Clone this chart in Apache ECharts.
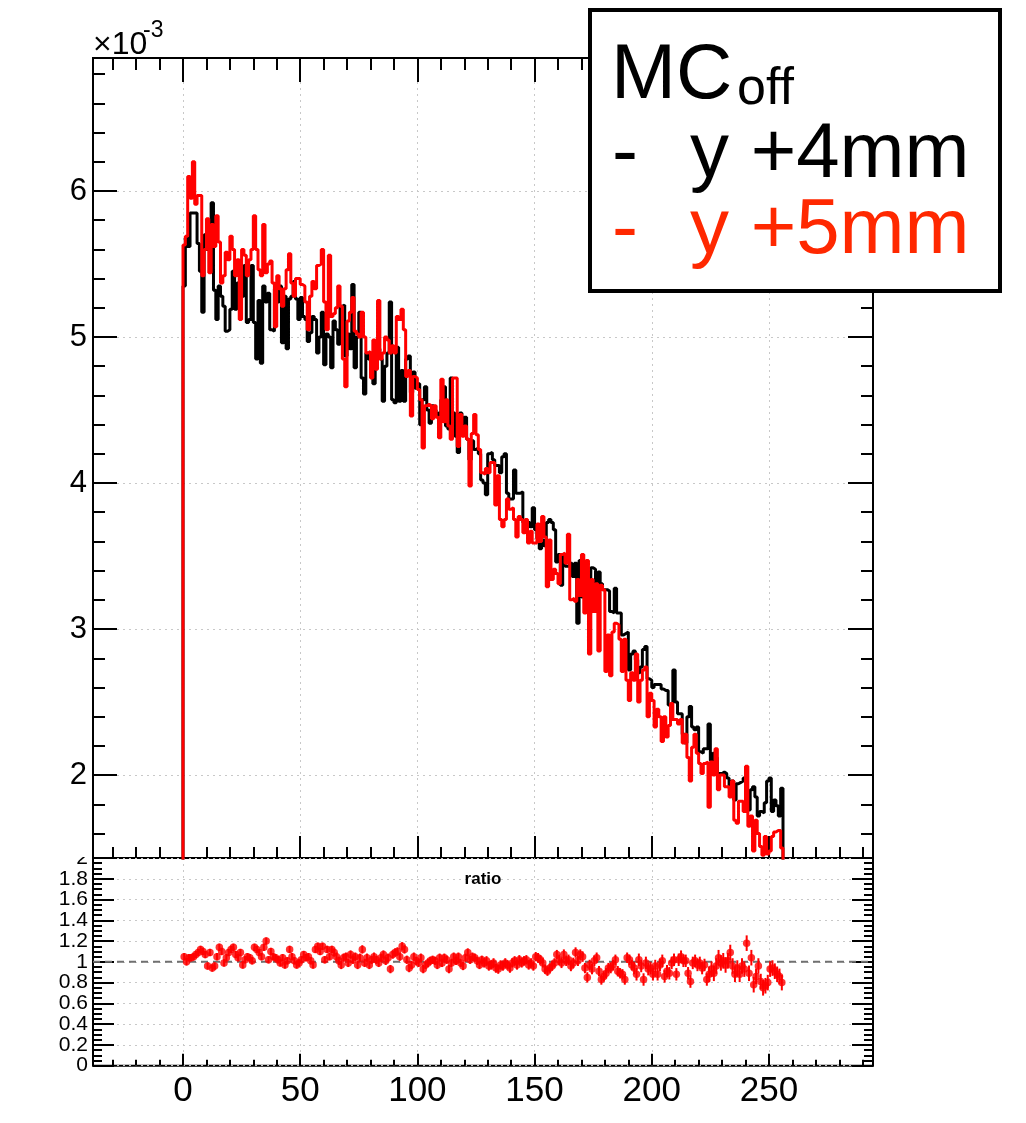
<!DOCTYPE html>
<html>
<head>
<meta charset="utf-8">
<script src="https://cdn.jsdelivr.net/npm/echarts@6/dist/echarts.min.js"></script>
<style>html,body{margin:0;padding:0;background:#fff}#c{width:1026px;height:1123px}</style>
</head>
<body>
<div id="c"></div>
<script>
// ---------------- data (upper panel values in units of 1e-3) ----------------
const binLow = 0;
const binWidth = 1;
const xTickLabels = [0, 50, 100, 150, 200, 250];
const yTickLabels = [2, 3, 4, 5, 6];
const ratioTickLabels = [0, 0.2, 0.4, 0.6, 0.8, 1, 1.2, 1.4, 1.6, 1.8, 2];

const yPlus4mm = [
5.35,5.68,5.62,5.85,5.85,5.85,5.64,5.45,5.17,5.70,
5.60,5.60,5.92,5.32,5.12,5.35,5.28,5.21,5.04,5.05,
5.19,5.45,5.19,5.37,5.38,5.28,5.49,5.10,5.12,5.49,
5.10,4.85,5.25,4.82,5.35,5.24,5.30,5.05,5.04,5.33,
5.24,5.35,4.96,5.28,4.92,5.26,5.28,5.38,5.26,5.12,
5.27,5.14,5.12,4.97,5.03,5.14,5.12,4.89,5.00,5.17,
4.81,5.02,5.00,4.79,5.11,5.05,4.95,5.21,5.22,4.87,
5.02,4.92,5.36,4.79,5.00,5.17,4.72,4.61,4.89,4.85,
4.80,4.68,4.89,4.92,4.85,4.56,4.80,4.89,5.24,4.57,
4.55,4.93,4.56,4.77,4.56,4.85,4.87,4.62,4.76,4.65,
4.68,4.40,4.57,4.66,4.50,4.41,4.53,4.50,4.46,4.48,
4.57,4.66,4.39,4.37,4.72,4.48,4.32,4.21,4.48,4.38,
4.45,4.30,4.16,4.29,4.23,4.24,4.20,4.02,4.00,3.92,
4.20,4.21,4.16,4.12,4.12,4.07,4.18,4.20,3.93,3.89,
3.89,4.09,3.93,3.93,3.94,3.73,3.68,3.73,3.70,3.83,
3.68,3.62,3.55,3.61,3.57,3.73,3.75,3.73,3.68,3.46,
3.51,3.30,3.51,3.43,3.43,3.45,3.36,3.45,3.04,3.47,
3.22,3.29,3.34,3.11,3.42,3.41,3.31,3.39,3.31,3.27,
3.27,3.26,3.12,3.11,3.28,3.11,3.11,2.96,2.97,2.98,
2.72,2.83,2.85,2.79,2.70,2.74,2.86,2.88,2.66,2.65,
2.60,2.62,2.62,2.62,2.59,2.58,2.58,2.48,2.49,2.72,
2.50,2.42,2.42,2.28,2.22,2.40,2.47,2.33,2.31,2.33,
2.16,2.15,2.18,2.18,2.35,2.10,2.15,2.12,2.01,2.01,
2.02,2.01,1.98,1.91,1.96,1.83,1.94,1.95,1.96,1.98,
1.83,1.76,1.90,1.92,1.85,1.72,1.75,1.74,1.81,1.96,
1.98,1.75,1.83,1.79,1.72,1.91
];

const yPlus5mm = [
5.63,5.69,6.10,5.95,6.20,5.91,5.97,5.97,5.42,5.60,
5.81,5.44,5.77,5.62,5.83,5.65,5.37,5.42,5.58,5.53,
5.69,5.60,5.42,5.53,5.12,5.60,5.56,5.42,5.53,5.60,
5.83,5.60,5.46,5.42,5.77,5.44,5.50,5.52,5.37,5.07,
5.42,5.33,5.21,5.33,5.46,5.57,5.37,5.28,5.40,5.40,
5.36,5.35,5.24,5.05,5.28,5.38,5.33,5.49,5.50,5.60,
5.24,5.05,5.56,5.14,5.16,5.20,5.35,5.21,4.85,4.66,
5.11,5.17,5.27,5.04,5.02,5.00,5.17,5.00,4.89,4.90,
4.72,4.98,4.78,5.25,4.85,4.89,5.00,4.98,4.89,4.94,
4.89,5.14,5.12,5.19,5.05,4.73,4.77,4.46,4.73,4.72,
4.64,4.57,4.24,4.53,4.54,4.53,4.44,4.53,4.45,4.31,
4.71,4.42,4.57,4.39,4.30,4.72,4.72,4.25,4.47,4.32,
4.39,4.30,3.98,4.34,4.47,4.33,4.23,4.07,4.06,4.10,
4.07,4.14,4.14,3.85,4.05,3.75,3.70,3.75,3.89,3.82,
3.83,3.75,3.63,3.77,3.75,3.66,3.75,3.59,3.67,3.59,
3.59,3.72,3.60,3.77,3.63,3.29,3.61,3.34,3.41,3.38,
3.31,3.51,3.52,3.45,3.65,3.20,3.21,3.19,3.34,3.23,
3.51,3.11,3.47,2.83,3.34,3.12,3.31,2.85,3.30,3.27,
2.71,2.96,2.68,2.98,3.04,3.03,2.93,2.71,2.93,2.65,
2.51,2.70,2.65,2.83,2.50,2.65,2.72,2.74,2.40,2.56,
2.51,2.33,2.45,2.40,2.23,2.40,2.26,2.34,2.49,2.38,
2.38,2.35,2.38,2.22,2.28,2.12,1.96,2.19,2.28,2.15,
2.08,2.01,2.08,2.09,1.78,2.09,2.00,2.18,1.90,2.00,
2.00,1.92,1.92,1.85,1.96,1.69,1.67,1.82,1.82,1.75,
2.06,1.65,1.72,1.48,1.69,1.60,1.51,1.45,1.58,1.46,
1.48,1.58,1.61,1.62,1.62,1.50
];

const ratioValues = [
1.05,1.00,1.04,1.04,1.05,1.07,1.09,1.12,1.10,1.07,
0.96,1.09,0.94,0.96,1.05,1.14,1.10,0.99,1.04,1.09,
1.12,1.14,1.07,1.04,1.09,0.97,1.02,1.05,1.04,1.01,
1.14,1.12,1.09,1.05,1.14,1.20,1.02,1.10,1.05,1.04,
1.02,0.99,1.04,0.97,1.01,1.12,1.05,1.01,0.97,0.99,
1.02,1.07,1.04,1.05,1.01,0.97,1.12,1.15,1.10,1.15,
1.02,1.12,1.05,1.12,1.09,1.05,1.01,0.97,1.04,1.05,
0.99,1.07,1.02,1.05,0.97,1.04,1.12,0.99,1.04,0.97,
1.02,1.05,1.02,0.99,1.04,1.07,1.01,1.04,0.93,1.07,
1.09,1.10,1.05,1.15,1.12,1.02,0.94,0.97,1.05,1.01,
0.99,1.04,0.93,0.97,0.99,1.01,1.02,1.01,0.97,1.04,
0.99,1.04,1.02,0.93,0.99,1.05,1.01,1.05,0.99,0.96,
1.04,1.09,1.02,1.05,1.04,1.01,0.97,1.02,0.99,1.01,
0.96,0.97,0.99,0.94,0.93,0.97,0.96,0.99,0.97,0.94,
0.99,1.01,0.97,1.02,0.99,1.01,1.02,0.97,0.99,0.96,
1.05,1.04,1.02,0.99,0.93,0.91,0.94,0.96,0.99,1.07,
1.02,0.99,1.07,1.01,1.02,0.96,0.99,1.09,1.01,1.07,
1.05,0.94,0.85,0.97,0.93,1.01,1.04,0.91,0.83,0.86,
0.89,0.94,0.94,0.97,1.02,0.91,0.89,0.88,0.83,1.04,
1.02,0.97,0.94,0.88,1.02,0.96,0.83,0.99,0.93,0.94,
0.88,0.96,0.88,0.97,1.01,0.86,0.91,0.89,0.99,1.02,
0.88,1.02,1.05,1.01,1.01,0.89,0.81,0.99,1.01,0.97,
0.99,0.94,0.97,0.83,0.88,0.93,0.89,0.96,1.04,0.99,
1.01,0.97,1.01,1.09,0.96,0.88,0.94,0.88,0.96,0.93,
1.18,0.89,1.04,0.78,0.86,0.96,0.81,0.75,0.77,0.80,
0.93,0.94,0.91,0.88,0.86,0.80
];
// ratio uncertainty per block of 32 bins
const ratioErrorByBlock = [0.035,0.035,0.04,0.04,0.045,0.05,0.06,0.075];

// ---------------- layout / axes ----------------
const FONT = "'Liberation Sans', Arial, Helvetica, sans-serif";
const X_MIN = -38.4, X_MAX = 294.4;
const Y_MIN = 1.432, Y_MAX = 6.911;
const R_MIN = 0, R_MAX = 2;

function range(a, b, step, dec) {
  const out = [];
  for (let v = a; v <= b + 1e-9; v += step) out.push(Number(v.toFixed(dec)));
  return out;
}
const xMinor = range(-30, 290, 10, 0);
const yMinor = range(1.6, 6.8, 0.2, 1);
const rMinor = range(0, 2, 0.05, 2);
// ratio labels split over two overlaid axes so none gets auto-hidden
const ratioLabelsA = ratioTickLabels.filter((v, i) => i % 2 === 0);
const ratioLabelsB = ratioTickLabels.filter((v, i) => i % 2 === 1);

function axis(grid, pos, min, max, ticks, len, opts) {
  opts = opts || {};
  return {
    type: 'value', gridIndex: grid, position: pos, min: min, max: max,
    axisLine: { show: false, onZero: false },
    axisTick: { show: true, inside: true, length: len, customValues: ticks,
                lineStyle: { color: '#000', width: 2 } },
    axisLabel: opts.label || { show: false },
    splitLine: opts.split ? { show: true, lineStyle: { color: '#c8c8c8', width: 1, type: [2, 4] } } : { show: false }
  };
}
function ratioLabel(values) {
  return { show: true, customValues: values, fontSize: 21, fontFamily: FONT, color: '#000', margin: 5,
           showMinLabel: true, showMaxLabel: true, hideOverlap: false,
           formatter: v => String(Math.round(v * 10) / 10) };
}

const xAxes = [
  axis(0, 'bottom', X_MIN, X_MAX, xTickLabels, 22, { split: true }),
  axis(0, 'bottom', X_MIN, X_MAX, xMinor, 11),
  axis(0, 'top', X_MIN, X_MAX, xTickLabels, 24),
  axis(0, 'top', X_MIN, X_MAX, xMinor, 12),
  axis(1, 'bottom', X_MIN, X_MAX, xTickLabels, 12, { split: true, label: {
    show: true, customValues: xTickLabels, fontSize: 35, fontFamily: FONT, color: '#000', margin: 8 } }),
  axis(1, 'bottom', X_MIN, X_MAX, xMinor, 6)
];
const yAxes = [
  axis(0, 'left', Y_MIN, Y_MAX, yTickLabels, 24, { split: true, label: {
    show: true, customValues: yTickLabels, fontSize: 31, fontFamily: FONT, color: '#000', margin: 6,
    formatter: v => String(Math.round(v)) } }),
  axis(0, 'left', Y_MIN, Y_MAX, yMinor, 12),
  axis(0, 'right', Y_MIN, Y_MAX, yTickLabels, 25),
  axis(0, 'right', Y_MIN, Y_MAX, yMinor, 12),
  axis(1, 'left', R_MIN, R_MAX, ratioTickLabels, 21, { split: true, label: ratioLabel(ratioLabelsA) }),
  axis(1, 'left', R_MIN, R_MAX, rMinor, 9, { label: ratioLabel(ratioLabelsB) }),
  axis(1, 'right', R_MIN, R_MAX, ratioTickLabels, 21),
  axis(1, 'right', R_MIN, R_MAX, rMinor, 9)
];

// ---------------- series data built from the arrays ----------------
function histPoints(vals) {
  const pts = [[binLow, 0]];
  vals.forEach((v, i) => pts.push([binLow + i * binWidth, v]));
  const xEnd = binLow + vals.length * binWidth;
  pts.push([xEnd, vals[vals.length - 1]]);
  pts.push([xEnd, 0]);
  return pts;
}
const ratioPoints = ratioValues.map((r, i) => [binLow + (i + 0.5) * binWidth, r,
  ratioErrorByBlock[Math.min(ratioErrorByBlock.length - 1, Math.floor(i / 32))]]);

const chart = echarts.init(document.getElementById('c'), null, { renderer: 'canvas' });
chart.setOption({
  animation: false,
  backgroundColor: '#fff',
  grid: [
    { left: 93, top: 58, width: 780, height: 800, show: true, borderColor: '#000', borderWidth: 2, containLabel: false },
    { left: 93, top: 858, width: 780, height: 207.7, show: true, borderColor: '#000', borderWidth: 2, containLabel: false }
  ],
  xAxis: xAxes,
  yAxis: yAxes,
  series: [
    { name: 'y +4mm', type: 'line', xAxisIndex: 0, yAxisIndex: 0, step: 'end', symbol: 'none',
      data: histPoints(yPlus4mm), lineStyle: { color: '#000', width: 3 }, z: 3 },
    { name: 'y +5mm', type: 'line', xAxisIndex: 0, yAxisIndex: 0, step: 'end', symbol: 'none',
      data: histPoints(yPlus5mm), lineStyle: { color: '#ff0000', width: 3 }, z: 4 },
    { name: 'unity', type: 'line', xAxisIndex: 4, yAxisIndex: 4, symbol: 'none',
      data: [[X_MIN, 1], [X_MAX, 1]], lineStyle: { color: '#707070', width: 2, type: [7, 5] }, z: 3 },
    { name: 'ratio err', type: 'custom', xAxisIndex: 4, yAxisIndex: 4, z: 4,
      renderItem: function (params, api) {
        const x = api.value(0), y = api.value(1), e = api.value(2);
        const p1 = api.coord([x, y - e]), p2 = api.coord([x, y + e]);
        return { type: 'line', shape: { x1: p1[0], y1: p1[1], x2: p2[0], y2: p2[1] },
                 style: { stroke: '#ff0000', lineWidth: 2 } };
      },
      data: ratioPoints },
    { name: 'ratio', type: 'scatter', xAxisIndex: 4, yAxisIndex: 4, symbol: 'circle', symbolSize: 7.5,
      itemStyle: { color: '#ff0000' }, data: ratioPoints.map(p => [p[0], p[1]]), z: 5 }
  ],
  graphic: [
    { type: 'rect', z: 50, shape: { x: 40, y: 838, width: 52, height: 19 }, style: { fill: '#fff' } },
    { type: 'text', z: 60, style: { text: '×10', x: 93, y: 45, verticalAlign: 'middle', fontSize: 32, fontFamily: FONT, fill: '#000' } },
    { type: 'text', z: 60, style: { text: '-3', x: 143, y: 31, verticalAlign: 'middle', fontSize: 23, fontFamily: FONT, fill: '#000' } },
    { type: 'text', z: 60, style: { text: 'ratio', x: 483, y: 879, align: 'center', verticalAlign: 'middle', fontSize: 17, fontWeight: 'bold', fontFamily: FONT, fill: '#000' } },
    { type: 'rect', z: 100, shape: { x: 590, y: 10, width: 410, height: 281 }, style: { fill: '#fff', stroke: '#000', lineWidth: 4 } },
    { type: 'text', z: 101, style: { text: 'MC', x: 611, y: 76, verticalAlign: 'middle', fontSize: 78, fontFamily: FONT, fill: '#000' } },
    { type: 'text', z: 101, style: { text: 'off', x: 737, y: 90, verticalAlign: 'middle', fontSize: 52, fontFamily: FONT, fill: '#000' } },
    { type: 'text', z: 101, style: { text: '-', x: 612, y: 155, verticalAlign: 'middle', fontSize: 78, fontFamily: FONT, fill: '#000' } },
    { type: 'text', z: 101, style: { text: 'y +4mm', x: 690, y: 155, verticalAlign: 'middle', fontSize: 78, fontFamily: FONT, fill: '#000' } },
    { type: 'text', z: 101, style: { text: '-', x: 612, y: 231, verticalAlign: 'middle', fontSize: 78, fontFamily: FONT, fill: '#ff2800' } },
    { type: 'text', z: 101, style: { text: 'y +5mm', x: 690, y: 231, verticalAlign: 'middle', fontSize: 78, fontFamily: FONT, fill: '#ff2800' } }
  ]
});
</script>
</body>
</html>
